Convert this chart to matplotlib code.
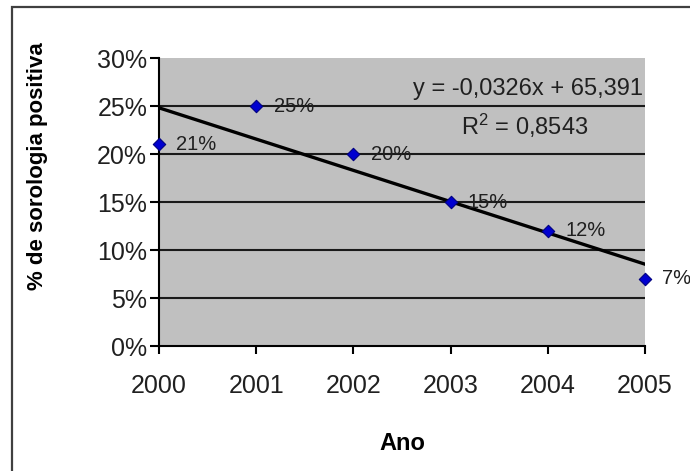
import numpy as np
import matplotlib
matplotlib.use('Agg')
import matplotlib.pyplot as plt
from matplotlib.patches import Rectangle
from matplotlib.ticker import FuncFormatter

# --------------------------------------------------------------------------------------
# Data

anos        = [2000, 2001, 2002, 2003, 2004, 2005]
positivos   = [0.21, 0.25, 0.20, 0.15, 0.12, 0.07]
rotulos     = ['21%', '25%', '20%', '15%', '12%', '7%']
yticks      = [0, 0.05, 0.10, 0.15, 0.20, 0.25, 0.30]

# --------------------------------------------------------------------------------------
# Linear trend

x = np.array(anos, dtype=float)
y = np.array(positivos)
slope, intercept = np.polyfit(x, y, 1)
yfit = slope * x + intercept
r2 = 1 - np.sum((y - yfit) ** 2) / np.sum((y - y.mean()) ** 2)

def br(v, n):
    return ('%.*f' % (n, v)).replace('.', ',')

eq = 'y = ' + br(slope, 4) + 'x + ' + br(intercept, 3)
r2txt = '$\\mathregular{R^2}$ = ' + br(r2, 4)

# --------------------------------------------------------------------------------------
# Chart

plt.rcParams['font.family'] = ['Liberation Sans', 'DejaVu Sans']

W, H = 690, 471
fig = plt.figure(figsize=(W / 100, H / 100), dpi=100)

# outer frame
fig.patches.append(Rectangle((12 / W, -0.1), 1.2, 1 - 7 / H + 0.1, transform=fig.transFigure,
                             fill=False, edgecolor='#404040', linewidth=1.6))

ax = fig.add_axes([159 / W, 1 - 346 / H, (645 - 159) / W, (346 - 58) / H])
ax.set_facecolor('#c0c0c0')

for t in yticks[1:-1]:
    ax.axhline(t, color='#1a1a1a', linewidth=1.5, zorder=1)

ax.plot(x, yfit, color='black', linewidth=2.4, zorder=3)
ax.scatter(x, y, marker='D', s=40, color='#0000d0', edgecolor='#000080', linewidth=0.8,
           zorder=4, clip_on=False)

for xi, yi, lab in zip(anos, positivos, rotulos):
    ax.annotate(lab, (xi, yi), xytext=(12.5, 0), textcoords='offset points',
                va='center', ha='left', fontsize=14.5, color='#202020', zorder=5,
                annotation_clip=False)

ax.text(0.995, 0.893, eq, transform=ax.transAxes, ha='right', va='center', fontsize=17, color='#202020')
ax.text(0.753, 0.765, r2txt, transform=ax.transAxes, ha='center', va='center', fontsize=17, color='#202020')

ax.spines['top'].set_visible(False)
ax.spines['right'].set_visible(False)
ax.spines['left'].set_linewidth(1.5)
ax.spines['bottom'].set_linewidth(1.5)

ax.set_xlim(2000, 2005)
ax.set_ylim(0, 0.30)
ax.set_xticks(anos)
ax.set_yticks(yticks)
ax.yaxis.set_major_formatter(FuncFormatter(lambda v, pos: '%d%%' % round(v * 100)))
ax.tick_params(axis='x', length=6, width=1.5, pad=14, labelsize=18, labelcolor='#202020')
ax.tick_params(axis='y', length=6.5, width=1.5, pad=2, labelsize=18, labelcolor='#202020')

fig.text(38 / W, 1 - 166 / H, '% de sorologia positiva', rotation=90, ha='center', va='center',
         fontsize=16, fontweight='bold')
fig.text(402 / W, 1 - 443 / H, 'Ano', ha='center', va='center', fontsize=17, fontweight='bold')

fig.savefig('out.png', dpi=100)
